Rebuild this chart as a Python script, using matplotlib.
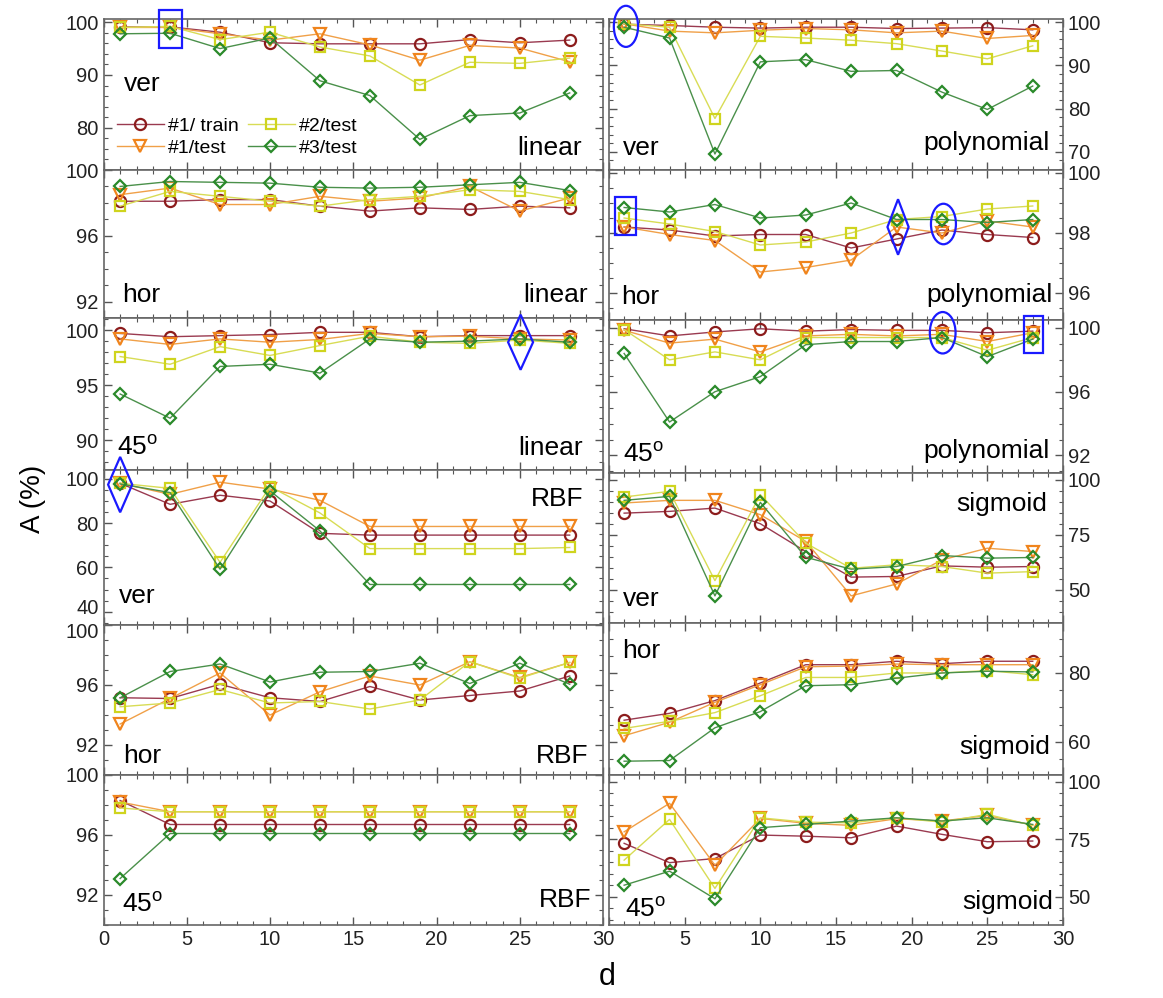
import matplotlib
matplotlib.use("Agg")
import matplotlib.pyplot as plt
from matplotlib.patches import Rectangle, Ellipse, Polygon
from matplotlib.ticker import AutoMinorLocator, MultipleLocator
from matplotlib.transforms import ScaledTranslation

plt.rcParams['font.family'] = ['Liberation Sans', 'DejaVu Sans']
plt.rcParams['mathtext.default'] = 'regular'

# x axis: d
d = [1, 4, 7, 10, 13, 16, 19, 22, 25, 28]

# linear / ver
lin_ver_train = [99.1, 99.1, 98.1, 96.1, 95.9, 95.9, 95.9, 96.7, 96.1, 96.6]
lin_ver_t1 = [99.0, 99.0, 97.8, 96.6, 97.8, 95.7, 92.8, 95.6, 95.1, 92.5]
lin_ver_t2 = [99.0, 99.2, 96.7, 98.1, 95.3, 93.6, 88.1, 92.4, 92.2, 93.2]
lin_ver_t3 = [97.8, 97.9, 95.0, 97.0, 88.9, 86.1, 77.8, 82.3, 82.8, 86.6]
# polynomial / ver
pol_ver_train = [99.5, 99.2, 98.8, 98.6, 98.8, 98.8, 98.5, 98.6, 98.7, 98.2]
pol_ver_t1 = [99.6, 97.9, 97.5, 98.1, 98.5, 98.2, 97.5, 97.9, 96.2, 96.9]
pol_ver_t2 = [99.6, 98.8, 77.7, 96.7, 96.3, 95.8, 95.0, 93.3, 91.5, 94.5]
pol_ver_t3 = [98.8, 96.3, 69.5, 90.8, 91.3, 88.6, 88.8, 83.8, 79.8, 85.2]
# linear / hor
lin_hor_train = [98.1, 98.1, 98.2, 98.2, 97.8, 97.5, 97.7, 97.6, 97.8, 97.7]
lin_hor_t1 = [98.5, 98.9, 97.9, 97.9, 98.4, 98.1, 98.3, 99.0, 97.5, 98.3]
lin_hor_t2 = [97.8, 98.7, 98.4, 98.1, 97.8, 98.2, 98.4, 98.8, 98.7, 98.2]
lin_hor_t3 = [99.0, 99.3, 99.25, 99.2, 98.95, 98.9, 98.95, 99.1, 99.25, 98.75]
# polynomial / hor
pol_hor_train = [98.2, 98.1, 97.9, 97.95, 97.95, 97.5, 97.8, 98.1, 97.95, 97.85]
pol_hor_t1 = [98.2, 97.95, 97.75, 96.7, 96.85, 97.1, 98.2, 98.0, 98.4, 98.2]
pol_hor_t2 = [98.5, 98.3, 98.05, 97.6, 97.7, 98.0, 98.45, 98.55, 98.8, 98.9]
pol_hor_t3 = [98.85, 98.7, 98.95, 98.5, 98.6, 99.0, 98.45, 98.45, 98.35, 98.45]
# linear / 45
lin_45_train = [99.7, 99.4, 99.5, 99.6, 99.8, 99.8, 99.4, 99.5, 99.5, 99.5]
lin_45_t1 = [99.2, 98.7, 99.2, 98.9, 99.15, 99.7, 99.4, 99.45, 99.2, 99.1]
lin_45_t2 = [97.6, 96.9, 98.5, 97.7, 98.6, 99.45, 98.9, 98.8, 99.1, 98.8]
lin_45_t3 = [94.2, 92.0, 96.7, 96.9, 96.1, 99.2, 98.9, 99.0, 99.2, 98.9]
# polynomial / 45
pol_45_train = [99.95, 99.5, 99.75, 99.95, 99.8, 99.9, 99.85, 99.85, 99.7, 99.8]
pol_45_t1 = [99.85, 99.05, 99.3, 98.5, 99.5, 99.6, 99.5, 99.6, 99.15, 99.7]
pol_45_t2 = [99.9, 98.0, 98.5, 98.0, 99.4, 99.4, 99.4, 99.4, 98.6, 99.4]
pol_45_t3 = [98.4, 94.1, 96.0, 96.95, 98.95, 99.15, 99.15, 99.4, 98.2, 99.3]
# RBF / ver
rbf_ver_train = [98.0, 88.5, 92.6, 90.0, 75.4, 74.6, 74.6, 74.6, 74.6, 74.6]
rbf_ver_t1 = [98.0, 93.0, 98.5, 95.4, 90.3, 78.5, 78.5, 78.5, 78.5, 78.5]
rbf_ver_t2 = [98.0, 95.7, 62.3, 96.5, 84.6, 68.5, 68.5, 68.5, 68.5, 69.0]
rbf_ver_t3 = [97.7, 93.8, 59.2, 94.6, 76.5, 52.3, 52.3, 52.3, 52.3, 52.3]
# sigmoid / ver
sig_ver_train = [84.8, 85.6, 87.1, 80.0, 67.4, 55.8, 56.1, 60.9, 60.3, 60.6]
sig_ver_t1 = [89.4, 90.6, 90.6, 84.1, 72.0, 47.3, 52.7, 63.6, 68.9, 67.4]
sig_ver_t2 = [92.1, 94.7, 54.2, 93.2, 71.2, 59.8, 61.4, 60.6, 57.6, 58.3]
sig_ver_t3 = [90.6, 92.4, 47.3, 89.7, 64.8, 59.4, 60.6, 65.6, 64.4, 64.7]
# RBF / hor
rbf_hor_train = [95.15, 95.1, 96.05, 95.15, 94.9, 95.9, 95.0, 95.3, 95.6, 96.6]
rbf_hor_t1 = [93.4, 95.1, 96.8, 94.0, 95.55, 96.6, 96.0, 97.55, 96.5, 97.5]
rbf_hor_t2 = [94.55, 94.8, 95.7, 94.8, 94.9, 94.4, 95.0, 97.55, 96.45, 97.5]
rbf_hor_t3 = [95.15, 96.9, 97.4, 96.2, 96.85, 96.9, 97.45, 96.1, 97.45, 96.05]
# sigmoid / hor
sig_hor_train = [66.3, 68.3, 72.0, 77.1, 82.4, 82.4, 83.4, 82.7, 83.4, 83.4]
sig_hor_t1 = [61.8, 65.7, 71.5, 76.6, 81.8, 82.0, 82.6, 82.4, 82.4, 82.4]
sig_hor_t2 = [63.9, 66.0, 68.5, 73.4, 78.7, 78.7, 80.0, 80.0, 80.7, 79.5]
sig_hor_t3 = [54.4, 54.6, 64.1, 68.8, 76.3, 76.6, 78.5, 80.0, 80.5, 80.3]
# RBF / 45
rbf_45_train = [98.3, 96.7, 96.7, 96.7, 96.7, 96.7, 96.7, 96.7, 96.7, 96.7]
rbf_45_t1 = [98.2, 97.55, 97.55, 97.55, 97.55, 97.55, 97.55, 97.55, 97.55, 97.55]
rbf_45_t2 = [97.8, 97.55, 97.55, 97.55, 97.55, 97.55, 97.55, 97.55, 97.55, 97.55]
rbf_45_t3 = [93.1, 96.1, 96.1, 96.1, 96.1, 96.1, 96.1, 96.1, 96.1, 96.1]
# sigmoid / 45
sig_45_train = [73.3, 64.9, 66.7, 76.9, 76.4, 75.7, 80.8, 77.2, 74.0, 74.3]
sig_45_t1 = [78.3, 90.7, 63.8, 84.1, 82.0, 81.1, 84.0, 83.0, 85.4, 81.2]
sig_45_t2 = [66.0, 83.7, 53.7, 84.4, 82.5, 82.2, 84.4, 82.5, 85.9, 81.1]
sig_45_t3 = [55.1, 61.2, 49.2, 80.1, 81.5, 83.0, 84.4, 83.0, 84.4, 81.5]

series_names = ['#1/ train', '#1/test', '#2/test', '#3/test']

# styles
mcol = ['#8c1c1c', '#f0841c', '#cfd41e', '#2a8a2a']
lcol = ['#9a3a50', '#f0a048', '#d8dc55', '#4a904a']
marks = ['o', 'v', 's', 'D']
msize = [8, 8, 7, 6.5]

W, H = 1163, 998
fig = plt.figure(figsize=(W / 100, H / 100), dpi=100)

col_x = [(103.5, 499.5), (609, 454)]
row_edges = [[19, 170, 318, 470, 625, 775, 925],
             [19, 170, 320, 473, 623, 775, 925]]

panels = [
    # (row, col, data, ylim, yticks, orientation label & pos, kernel label & pos)
    (0, 0, [lin_ver_train, lin_ver_t1, lin_ver_t2, lin_ver_t3], (72, 100.6), [80, 90, 100],
     ('ver', 0.04, 0.52), ('linear', 0.957, 0.1)),
    (0, 1, [pol_ver_train, pol_ver_t1, pol_ver_t2, pol_ver_t3], (65.8, 100.7), [70, 80, 90, 100],
     ('ver', 0.03, 0.1), ('polynomial', 0.971, 0.13)),
    (1, 0, [lin_hor_train, lin_hor_t1, lin_hor_t2, lin_hor_t3], (91, 100), [92, 96, 100],
     ('hor', 0.037, 0.108), ('linear', 0.97, 0.108)),
    (1, 1, [pol_hor_train, pol_hor_t1, pol_hor_t2, pol_hor_t3], (95.1, 100.1), [96, 98, 100],
     ('hor', 0.027, 0.107), ('polynomial', 0.978, 0.12)),
    (2, 0, [lin_45_train, lin_45_t1, lin_45_t2, lin_45_t3], (87.3, 101.1), [90, 95, 100],
     ('45$^{o}$', 0.027, 0.1), ('linear', 0.96, 0.1)),
    (2, 1, [pol_45_train, pol_45_t1, pol_45_t2, pol_45_t3], (90.9, 100.5), [92, 96, 100],
     ('45$^{o}$', 0.03, 0.07), ('polynomial', 0.971, 0.1)),
    (3, 0, [rbf_ver_train, rbf_ver_t1, rbf_ver_t2, rbf_ver_t3], (34, 104), [40, 60, 80, 100],
     ('ver', 0.03, 0.14), ('RBF', 0.96, 0.77)),
    (3, 1, [sig_ver_train, sig_ver_t1, sig_ver_t2, sig_ver_t3], (35, 103), [50, 75, 100],
     ('ver', 0.03, 0.11), ('sigmoid', 0.965, 0.75)),
    (4, 0, [rbf_hor_train, rbf_hor_t1, rbf_hor_t2, rbf_hor_t3], (90, 100), [92, 96, 100],
     ('hor', 0.04, 0.08), ('RBF', 0.97, 0.08)),
    (4, 1, [sig_hor_train, sig_hor_t1, sig_hor_t2, sig_hor_t3], (50.4, 94.5), [60, 80],
     ('hor', 0.03, 0.77), ('sigmoid', 0.971, 0.14)),
    (5, 0, [rbf_45_train, rbf_45_t1, rbf_45_t2, rbf_45_t3], (90, 100), [92, 96, 100],
     ('45$^{o}$', 0.037, 0.087), ('RBF', 0.977, 0.12)),
    (5, 1, [sig_45_train, sig_45_t1, sig_45_t2, sig_45_t3], (37.8, 103), [50, 75, 100],
     ('45$^{o}$', 0.035, 0.053), ('sigmoid', 0.978, 0.11)),
]

axes = {}
for row, col, data, ylim, yticks, lab1, lab2 in panels:
    x0, w = col_x[col]
    top, bot = row_edges[col][row], row_edges[col][row + 1]
    ax = fig.add_axes([x0 / W, 1 - bot / H, w / W, (bot - top) / H])
    axes[(row, col)] = ax
    for i, y in enumerate(data):
        ax.plot(d, y, color=lcol[i], lw=1.0, marker=marks[i], ms=msize[i],
                mfc='none', mec=mcol[i], mew=1.6, label=series_names[i])
    ax.set_xlim(0, 30)
    ax.set_ylim(*ylim)
    ax.set_yticks(yticks)
    ax.xaxis.set_major_locator(MultipleLocator(5))
    ax.xaxis.set_minor_locator(MultipleLocator(1))
    ax.yaxis.set_minor_locator(AutoMinorLocator())
    ax.tick_params(which='both', direction='in', top=True, right=True,
                   color='#555555', labelsize=14.5, labelcolor='#222222')
    ax.tick_params(which='major', length=6, width=1)
    ax.tick_params(which='minor', length=3, width=0.8)
    for s in ax.spines.values():
        s.set_color('#666666')
        s.set_linewidth(1.2)
    if col == 1:
        ax.tick_params(labelleft=False, labelright=True)
    if row < 5:
        ax.tick_params(labelbottom=False)
    elif col == 1:
        ax.set_xticks([0, 5, 10, 15, 20, 25, 30])
        ax.set_xticklabels(['', '5', '10', '15', '20', '25', '30'])
    ax.text(lab1[1], lab1[2], lab1[0], transform=ax.transAxes, fontsize=19,
            ha='left', va='baseline')
    ax.text(lab2[1], lab2[2], lab2[0], transform=ax.transAxes, fontsize=19,
            ha='right', va='baseline')

# nudge the two crowded tick labels at the RBF ver / RBF hor boundary apart
lbl40 = axes[(3, 0)].yaxis.get_major_ticks()[0].label1
lbl40.set_transform(lbl40.get_transform() + ScaledTranslation(0, 4 / 72, fig.dpi_scale_trans))
lbl100 = axes[(4, 0)].yaxis.get_major_ticks()[-1].label1
lbl100.set_transform(lbl100.get_transform() + ScaledTranslation(0, -4 / 72, fig.dpi_scale_trans))

axes[(0, 0)].legend(loc='upper left', bbox_to_anchor=(0.0, 0.44), ncol=2, frameon=False,
                    fontsize=14, handlelength=2.4, handletextpad=0.2,
                    columnspacing=0.5, labelspacing=0.25, borderpad=0.2)

# blue marks on best points
blue = dict(fill=False, edgecolor='#1a1aff', lw=1.6, clip_on=False, zorder=5)


def diamond(ax, cx, cy, w, h):
    ax.add_patch(Polygon([(cx, cy + h / 2), (cx + w / 2, cy), (cx, cy - h / 2),
                          (cx - w / 2, cy)], closed=True, **blue))


axes[(0, 0)].add_patch(Rectangle((3.33, 95.1), 1.38, 7.2, **blue))
axes[(0, 1)].add_patch(Ellipse((1.12, 99.0), 1.6, 9.5, **blue))
axes[(1, 1)].add_patch(Rectangle((0.4, 97.95), 1.4, 1.25, **blue))
diamond(axes[(1, 1)], 19.1, 98.2, 1.4, 1.85)
axes[(1, 1)].add_patch(Ellipse((22.1, 98.3), 1.65, 1.35, **blue))
diamond(axes[(2, 0)], 25.05, 98.9, 1.5, 5.0)
axes[(2, 1)].add_patch(Ellipse((22.05, 99.7), 1.7, 2.6, **blue))
axes[(2, 1)].add_patch(Rectangle((27.4, 98.4), 1.3, 2.35, **blue))
diamond(axes[(3, 0)], 1.0, 97.4, 1.45, 25)

fig.text(0.028, 0.5, 'A (%)', rotation=90, fontsize=20, ha='center', va='center')
fig.text(607 / W, 0.013, 'd', fontsize=22, ha='center', va='baseline')

fig.savefig('out.png', dpi=100)
